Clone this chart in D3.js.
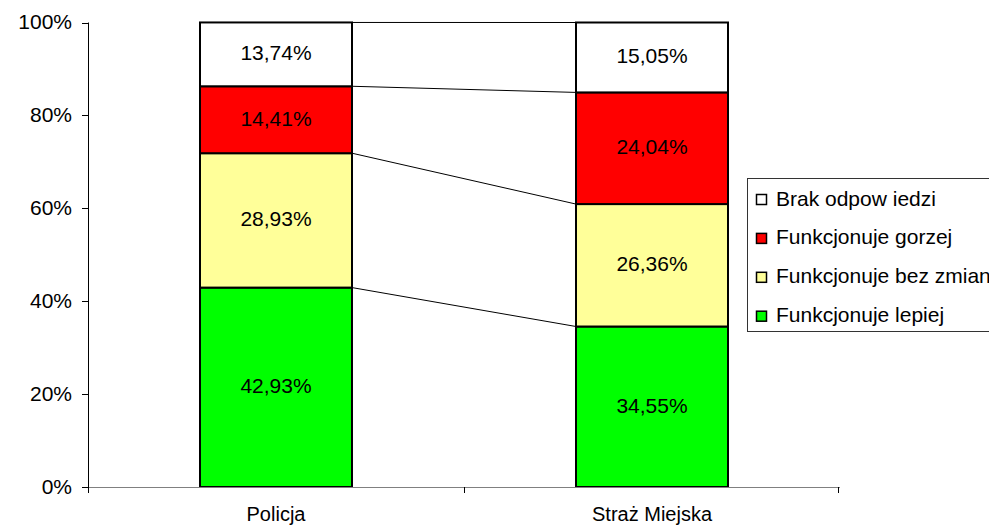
<!DOCTYPE html>
<html>
<head>
<meta charset="utf-8">
<script src="https://cdn.jsdelivr.net/npm/d3@7"></script>
<style>
  body { margin: 0; background: #fff; }
  svg { display: block; font-family: "Liberation Sans", Arial, sans-serif; }
</style>
</head>
<body>
<div id="chart"></div>
<script>
const WIDTH = 989;
const HEIGHT = 528;
const FONT = 21;

// --------------- Data ---------------
const categories = ["Policja", "Straż Miejska"];
// stacked bottom -> top
const seriesNames = ["Funkcjonuje lepiej", "Funkcjonuje bez zmian", "Funkcjonuje gorzej", "Brak odpow iedzi"];
const seriesColors = ["#00ff00", "#ffff99", "#ff0000", "#ffffff"];
const lepiej = [42.93, 34.55];
const bezZmian = [28.93, 26.36];
const gorzej = [14.41, 24.04];
const brak = [13.74, 15.05];
const yTicks = [0, 20, 40, 60, 80, 100];

const values = [lepiej, bezZmian, gorzej, brak];

// --------------- Scales ---------------
const x = d3.scaleBand()
  .domain(categories)
  .range([88, 840])
  .paddingInner(0)
  .paddingOuter(0);
const barW = 152;

const y = d3.scaleLinear().domain([0, 100]).range([487, 22.5]);

const rows = categories.map((c, i) => {
  const r = { cat: c };
  seriesNames.forEach((s, j) => r[s] = values[j][i]);
  return r;
});
const stacked = d3.stack().keys(seriesNames)(rows);

const svg = d3.select("#chart").append("svg")
  .attr("width", WIDTH)
  .attr("height", HEIGHT);

const barX = c => x(c) + (x.bandwidth() - barW) / 2;

// --------------- Connector lines ---------------
const conn = svg.append("g");
stacked.forEach(layer => {
  conn.append("line")
    .attr("x1", barX(categories[0]) + barW)
    .attr("x2", barX(categories[1]))
    .attr("y1", y(layer[0][1]))
    .attr("y2", y(layer[1][1]))
    .attr("stroke", "#000")
    .attr("stroke-width", 1);
});

// --------------- Bars ---------------
const bars = svg.append("g");
stacked.forEach((layer, j) => {
  bars.selectAll(null)
    .data(layer)
    .enter()
    .append("rect")
    .attr("x", d => barX(d.data.cat))
    .attr("width", barW)
    .attr("y", d => y(d[1]))
    .attr("height", d => y(d[0]) - y(d[1]))
    .attr("fill", seriesColors[j])
    .attr("stroke", "#000")
    .attr("stroke-width", 2);

  bars.selectAll(null)
    .data(layer)
    .enter()
    .append("text")
    .attr("x", d => barX(d.data.cat) + barW / 2)
    .attr("y", d => (y(d[0]) + y(d[1])) / 2 + 6)
    .attr("text-anchor", "middle")
    .attr("font-size", FONT)
    .text(d => (d[1] - d[0]).toFixed(2).replace(".", ",") + "%");
});

// --------------- Axes ---------------
const axes = svg.append("g").attr("stroke-width", 1);
axes.append("line")
  .attr("x1", 88.5).attr("x2", 88.5)
  .attr("y1", y(100)).attr("y2", 493)
  .attr("stroke", "#000");
axes.append("line")
  .attr("x1", 88).attr("x2", 840)
  .attr("y1", 487.5).attr("y2", 487.5)
  .attr("stroke", "#808080");
axes.selectAll(null)
  .data([x.range()[0], x(categories[1]), x.range()[1] - 2])
  .enter()
  .append("line")
  .attr("x1", d => d + 0.5).attr("x2", d => d + 0.5)
  .attr("y1", 487).attr("y2", 493)
  .attr("stroke", "#000");

axes.selectAll(null)
  .data(yTicks)
  .enter()
  .append("line")
  .attr("x1", 82).attr("x2", 88)
  .attr("y1", d => Math.round(y(d)) + 0.5)
  .attr("y2", d => Math.round(y(d)) + 0.5)
  .attr("stroke", "#000");

axes.selectAll(null)
  .data(yTicks)
  .enter()
  .append("text")
  .attr("x", 72)
  .attr("y", d => y(d) + 6.5)
  .attr("text-anchor", "end")
  .attr("font-size", FONT)
  .text(d => d + "%");

axes.selectAll(null)
  .data(categories)
  .enter()
  .append("text")
  .attr("x", d => x(d) + x.bandwidth() / 2)
  .attr("y", 521)
  .attr("text-anchor", "middle")
  .attr("font-size", 20)
  .text(d => d);

// --------------- Legend ---------------
const legend = svg.append("g");
legend.append("rect")
  .attr("x", 747.5).attr("y", 178.5)
  .attr("width", 260).attr("height", 153)
  .attr("fill", "#fff")
  .attr("stroke", "#333");

const legendOrder = [3, 2, 1, 0];
legendOrder.forEach((j, k) => {
  const cy = 199 + k * 38.9;
  legend.append("rect")
    .attr("x", 756.5).attr("y", cy - 4.5)
    .attr("width", 10).attr("height", 10)
    .attr("fill", seriesColors[j])
    .attr("stroke", "#000")
    .attr("stroke-width", 1.5);
  legend.append("text")
    .attr("x", 776)
    .attr("y", cy + 6.5)
    .attr("font-size", FONT)
    .text(seriesNames[j]);
});
</script>
</body>
</html>
